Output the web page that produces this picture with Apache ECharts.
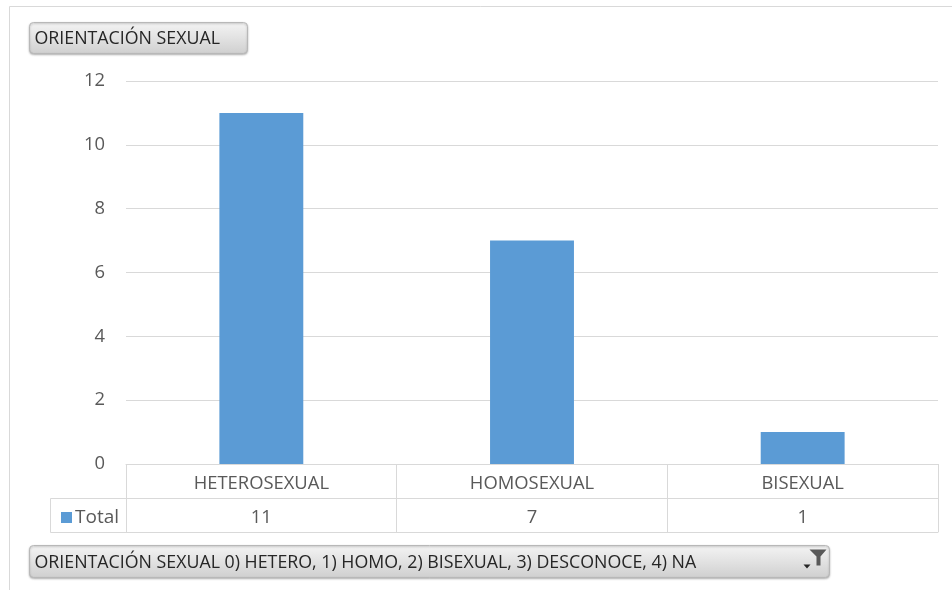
<!DOCTYPE html>
<html>
<head>
<meta charset="utf-8">
<script src="https://cdn.jsdelivr.net/npm/echarts@6/dist/echarts.min.js"></script>
<style>
  html, body { margin: 0; padding: 0; background: #ffffff; }
  #chart { width: 952px; height: 590px; }
</style>
</head>
<body>
<div id="chart"></div>
<script>
// Pivot chart data: counts per sexual orientation
const categories = ['HETEROSEXUAL', 'HOMOSEXUAL', 'BISEXUAL'];
const totals = [11, 7, 1];
const seriesName = 'Total';
const yTicks = { min: 0, max: 12, interval: 2 };
const fieldButton = 'ORIENTACIÓN SEXUAL';
const filterButton = 'ORIENTACIÓN SEXUAL 0) HETERO, 1) HOMO, 2) BISEXUAL, 3) DESCONOCE, 4) NA';

const FONT = 'Open Sans';
const TEXT = '#595959';
const LINE = '#D9D9D9';
const BAR = '#5B9BD5';
const ROW = 34;
const LABEL_SIZE = 18.4;

const chart = echarts.init(document.getElementById('chart'), null, { renderer: 'canvas' });

// Grey pivot field button
function fieldBtn(x, y, w, h, label, withFilter) {
  const children = [
    {
      type: 'rect',
      shape: { x: x, y: y, width: w, height: h, r: 4 },
      style: {
        fill: new echarts.graphic.LinearGradient(0, 0, 0, 1, [
          { offset: 0, color: '#F4F4F4' },
          { offset: 0.5, color: '#E2E2E2' },
          { offset: 1, color: '#CFCFCF' }
        ]),
        stroke: '#B8B8B8',
        lineWidth: 1,
        shadowColor: 'rgba(0,0,0,0.25)',
        shadowBlur: 2,
        shadowOffsetY: 1
      }
    },
    {
      type: 'text',
      style: {
        x: x + 5, y: y + h / 2 + 1,
        text: label,
        fill: '#262626',
        font: '17.8px "' + FONT + '"',
        verticalAlign: 'middle'
      }
    }
  ];
  if (withFilter) {
    const fx = x + w - 20, fy = y + 4;
    children.push({
      type: 'polygon',
      shape: { points: [[fx, fy], [fx + 17, fy], [fx + 11, fy + 7], [fx + 11, fy + 16], [fx + 7, fy + 16], [fx + 7, fy + 7]] },
      style: { fill: '#595959' }
    });
    children.push({
      type: 'polygon',
      shape: { points: [[fx - 6, fy + 15], [fx + 1, fy + 15], [fx - 2.5, fy + 19]] },
      style: { fill: '#262626' }
    });
  }
  return { type: 'group', children: children };
}

const tableLabel = {
  color: TEXT, fontSize: LABEL_SIZE, fontFamily: FONT,
  margin: 0, lineHeight: ROW, height: ROW, verticalAlign: 'top', padding: [3, 0, 0, 0]
};

const option = {
  animation: false,
  backgroundColor: '#ffffff',
  textStyle: { fontFamily: FONT },
  grid: { left: 126, right: 14, top: 81, bottom: 126, containLabel: false },
  legend: {
    data: [seriesName],
    left: 56,
    top: 503,
    icon: 'rect',
    itemWidth: 11,
    itemHeight: 11,
    itemGap: 6,
    textStyle: { color: TEXT, fontSize: 19, fontFamily: FONT, padding: [0, 0, 0, -2] }
  },
  xAxis: [
    {
      type: 'category',
      data: categories,
      position: 'bottom',
      axisLine: { show: true, lineStyle: { color: LINE, width: 1 } },
      axisTick: { show: true, length: ROW * 2, lineStyle: { color: LINE, width: 1 } },
      axisLabel: tableLabel,
      splitLine: { show: false }
    },
    {
      type: 'category',
      data: totals.map(String),
      position: 'bottom',
      offset: ROW,
      axisLine: { show: true, lineStyle: { color: LINE, width: 1 } },
      axisTick: { show: false },
      axisLabel: tableLabel,
      splitLine: { show: false }
    },
    {
      type: 'category',
      data: categories,
      position: 'bottom',
      offset: ROW * 2,
      axisLine: { show: true, lineStyle: { color: LINE, width: 1 } },
      axisTick: { show: false },
      axisLabel: { show: false },
      splitLine: { show: false }
    }
  ],
  yAxis: {
    type: 'value',
    min: yTicks.min,
    max: yTicks.max,
    interval: yTicks.interval,
    axisLine: { show: false },
    axisTick: { show: false },
    axisLabel: { color: TEXT, fontSize: LABEL_SIZE, fontFamily: FONT, margin: 21, padding: [2, 0, 0, 0] },
    splitLine: { show: true, lineStyle: { color: LINE, width: 1 } }
  },
  series: [
    {
      name: seriesName,
      type: 'bar',
      xAxisIndex: 0,
      data: totals,
      barWidth: '31%',
      itemStyle: { color: BAR }
    }
  ],
  graphic: [
    // chart area frame
    { type: 'polyline', silent: true, shape: { points: [[9.5, 590], [9.5, 6.5], [952, 6.5]] }, style: { stroke: LINE, lineWidth: 1, fill: null } },
    // legend key cell of the data table
    { type: 'polyline', silent: true, shape: { points: [[126, 498.5], [50.5, 498.5], [50.5, 532.5], [126, 532.5]] }, style: { stroke: LINE, lineWidth: 1, fill: null } },
    fieldBtn(29.5, 22.5, 218, 31, fieldButton, false),
    fieldBtn(29.5, 545.5, 800, 32, filterButton, true)
  ]
};

chart.setOption(option);
</script>
</body>
</html>
